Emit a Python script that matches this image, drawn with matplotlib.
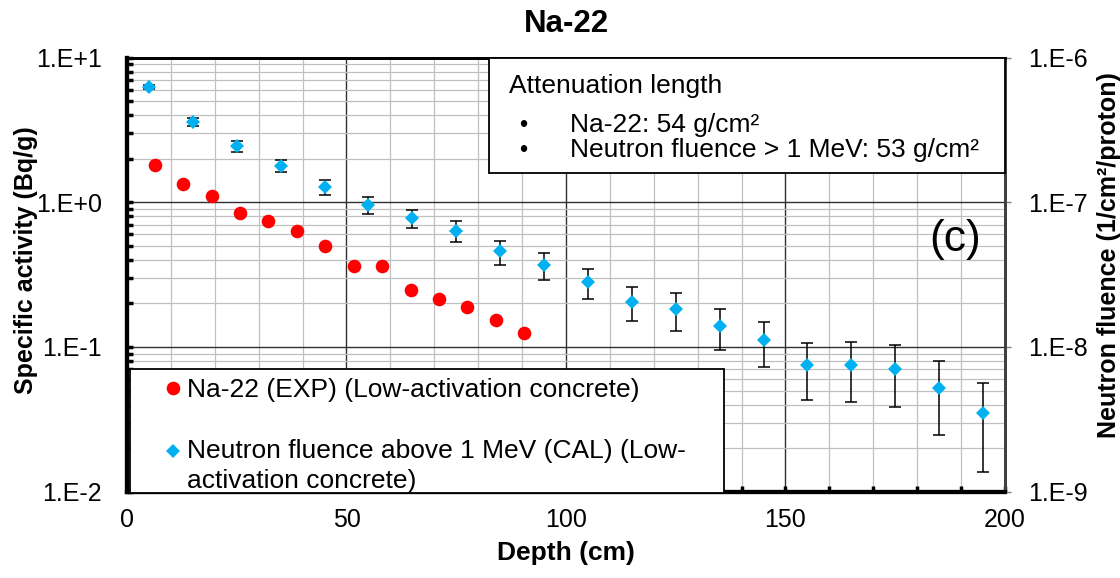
'''
Na-22 activity and neutron fluence vs. depth in low-activation concrete
'''

''' 3rd party imports '''
import numpy as np
import matplotlib
matplotlib.use('Agg')
import matplotlib.pyplot as plt
from matplotlib.ticker import MultipleLocator, LogLocator, FuncFormatter, NullFormatter
from matplotlib.patches import Rectangle
from matplotlib.legend_handler import HandlerLine2D

plt.rcParams['font.family'] = ['Liberation Sans', 'DejaVu Sans']

''' Na-22 specific activity, measured (Bq/g) '''
lfDepthExp = [6.3, 12.8, 19.3, 25.8, 32.2, 38.7, 45.2, 51.7, 58.1, 64.6, 71.1, 77.5, 84.0, 90.4]
lfActExp = [1.80, 1.34, 1.11, 0.842, 0.745, 0.628, 0.495, 0.364, 0.364, 0.248, 0.215, 0.188,
            0.154, 0.124]

''' Neutron fluence above 1 MeV, calculated (1/cm2/proton), error in percent '''
lfDepthCal = [5, 15, 25, 35, 45, 55, 65, 75, 85, 95, 105, 115, 125, 135, 145, 155, 165, 175, 185, 195]
lfFluCal = [6.25e-7, 3.58e-7, 2.44e-7, 1.79e-7, 1.28e-7, 9.56e-8, 7.78e-8, 6.36e-8, 4.57e-8, 3.66e-8,
            2.79e-8, 2.06e-8, 1.82e-8, 1.40e-8, 1.11e-8, 7.46e-9, 7.46e-9, 7.05e-9, 5.21e-9, 3.50e-9]
lfErrPct = [3, 6.5, 9, 10, 12, 13.5, 14.5, 16.5, 19, 21, 23.5, 27, 29, 31.5, 35, 42.5, 44, 45.5, 53, 61]

lsLegend = ['Na-22 (EXP) (Low-activation concrete)',
            'Neutron fluence above 1 MeV (CAL) (Low-\nactivation concrete)']
lsBox = ['Na-22: 54 g/cm\u00b2', 'Neutron fluence > 1 MeV: 53 g/cm\u00b2']

sRed = '#FF0000'
sBlue = '#00B0F0'


def fmtExp(fVal, lPos):
    return '1.E%+d' % int(round(np.log10(fVal)))


class HandlerFirstLine(HandlerLine2D):
    ''' put the marker next to the first line of a two-line label '''
    def create_artists(self, legend, orig_handle, xdescent, ydescent, width, height, fontsize, trans):
        return HandlerLine2D.create_artists(self, legend, orig_handle, xdescent,
                                            ydescent - 1.15 * fontsize, width, height, fontsize, trans)


fig = plt.figure(figsize=(11.2, 5.78), dpi=100)
ax = fig.add_axes([0.1134, 0.1493, 0.7839, 0.7512])
ax2 = ax.twinx()

''' Left axis: measured activity '''
ax.plot(lfDepthExp, lfActExp, 'o', color=sRed, ms=9.8, mew=0, zorder=3)
ax.set_yscale('log')
ax.set_ylim(1e-2, 1e1)
ax.set_xlim(0, 200)

''' Right axis: calculated fluence with error bars '''
naFlu = np.array(lfFluCal)
naErr = naFlu * np.array(lfErrPct) / 100.0
ebCal = ax2.errorbar(lfDepthCal, naFlu, yerr=naErr, fmt='D', color=sBlue, ms=7.5,
                     ecolor='black', elinewidth=1.1, capsize=4.3, capthick=1.1)
ebCal[0].set_markeredgewidth(0)
ax2.set_yscale('log')
ax2.set_ylim(1e-9, 1e-6)

''' Grid '''
ax.set_axisbelow(True)
ax.xaxis.set_major_locator(MultipleLocator(50))
ax.xaxis.set_minor_locator(MultipleLocator(10))
ax.yaxis.set_major_locator(LogLocator(base=10))
ax.yaxis.set_minor_locator(LogLocator(base=10, subs=np.arange(2, 10)))
ax.yaxis.set_major_formatter(FuncFormatter(fmtExp))
ax.yaxis.set_minor_formatter(NullFormatter())
ax.grid(which='minor', color='#C0C0C0', lw=0.9)
ax.grid(which='major', color='#303030', lw=1.0)

ax2.yaxis.set_major_locator(LogLocator(base=10))
ax2.yaxis.set_minor_locator(LogLocator(base=10, subs=np.arange(2, 10)))
ax2.yaxis.set_major_formatter(FuncFormatter(fmtExp))
ax2.yaxis.set_minor_formatter(NullFormatter())

''' Ticks '''
ax.tick_params(axis='y', which='both', direction='in', length=4, width=2.5, labelsize=18, pad=18)
ax.tick_params(axis='x', which='both', direction='in', length=4, width=2.5, labelsize=18, pad=12)
ax2.tick_params(axis='y', which='major', direction='out', length=4, width=1, color='#7F7F7F',
                labelsize=18, pad=12.5)
ax2.tick_params(axis='y', which='minor', length=0)

for a in (ax, ax2):
    a.spines['left'].set_linewidth(3)
    a.spines['bottom'].set_linewidth(3)
    a.spines['top'].set_linewidth(2)
    a.spines['right'].set_linewidth(2)
    a.spines['right'].set_color('#404040')
    a.xaxis.get_offset_text().set_visible(False)
    a.yaxis.get_offset_text().set_visible(False)

''' Labels '''
ax.set_title('Na-22', fontsize=22.5, fontweight='bold', pad=18.6)
ax.set_xlabel('Depth (cm)', fontsize=19, fontweight='bold', labelpad=6)
ax.set_ylabel('Specific activity (Bq/g)', fontsize=18, fontweight='bold')
ax2.set_ylabel('Neutron fluence (1/cm\u00b2/proton)', fontsize=18, fontweight='bold')
ax.yaxis.set_label_coords(-0.115, 0.534)
ax2.yaxis.set_label_coords(1.118, 0.545)
for t in (ax.yaxis.label, ax2.yaxis.label):
    t.set_va('center')
    t.set_rotation(90)

''' Legend box, lower left '''
ax2.add_patch(Rectangle((0.0034, -0.003), 0.6766, 0.2859, transform=ax2.transAxes, facecolor='white',
                        edgecolor='black', lw=1.3, zorder=5, clip_on=False))
leg = ax2.legend([ax.lines[0], ebCal[0]], lsLegend, loc='upper left', bbox_to_anchor=(0.0375, 0.2618),
                 frameon=False, fontsize=19, borderpad=0, borderaxespad=0, handlelength=1.0,
                 handletextpad=0.02, labelspacing=1.41,
                 handler_map={ebCal[0]: HandlerFirstLine()})
leg.set_zorder(6)
for t in leg.get_texts():
    t.set_linespacing(1.3)

''' Attenuation length box, upper right '''
ax2.add_patch(Rectangle((0.4127, 0.7333), 0.5873, 0.2667, transform=ax2.transAxes, facecolor='white',
                        edgecolor='black', lw=1.3, zorder=5, clip_on=False))
ax2.text(0.4354, 0.9175, 'Attenuation length', transform=ax2.transAxes, fontsize=19,
         va='baseline', zorder=6)
for fY, sLine in zip([0.8291, 0.7701], lsBox):
    ax2.text(0.447, fY, '\u2022', transform=ax2.transAxes, fontsize=17, va='baseline', zorder=6)
    ax2.text(0.5048, fY, sLine, transform=ax2.transAxes, fontsize=19, va='baseline', zorder=6)

ax2.text(0.943, 0.582, '(c)', transform=ax2.transAxes, fontsize=32, ha='center', va='center', zorder=6)

fig.savefig('out.png', dpi=100)
